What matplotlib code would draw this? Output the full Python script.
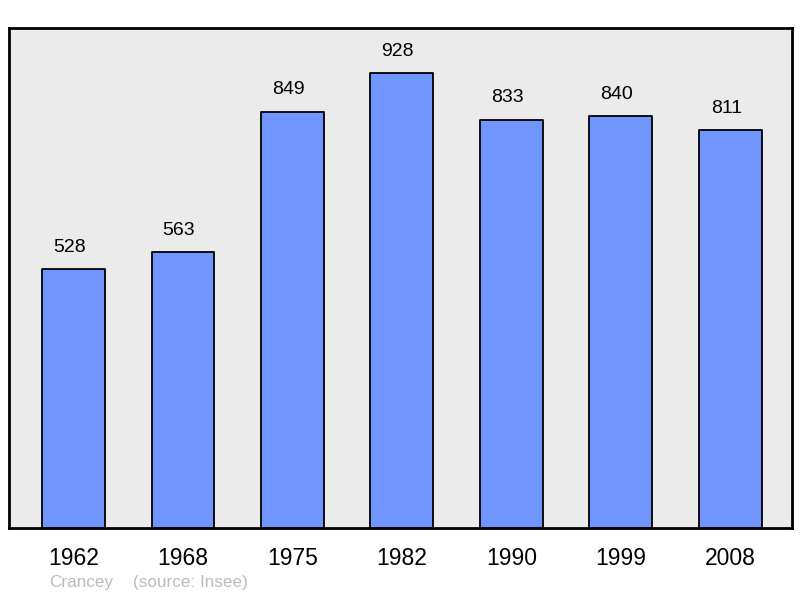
import matplotlib
matplotlib.use("Agg")
import matplotlib.pyplot as plt

years = ["1962", "1968", "1975", "1982", "1990", "1999", "2008"]
population = [528, 563, 849, 928, 833, 840, 811]
commune = "Crancey"
source = "(source: Insee)"

plt.rcParams['font.family'] = ['Liberation Sans', 'DejaVu Sans']

fig = plt.figure(figsize=(8, 5.98), dpi=100)
ax = fig.add_axes([9/800, 1-528/598, 783/800, 500/598])
ax.set_facecolor('#EBEBEB')

x = list(range(len(years)))
bars = ax.bar(x, population, width=0.575, color='#7095FF', edgecolor='black',
              linewidth=1.3, joinstyle='round', zorder=2)
ax.set_xlim(-0.589, 6.562)
ax.set_ylim(0, 1020)
for xi, v in zip(x, population):
    ax.annotate(str(v), (xi, v), xytext=(-3, 15.8), textcoords='offset points',
                ha='center', va='center', fontsize=14, color='black')
ax.set_xticks(x)
ax.set_xticklabels(years, fontsize=16.5)
ax.tick_params(axis='x', length=0, pad=14)
ax.set_yticks([])
for s in ax.spines.values():
    s.set_linewidth(2)
    s.set_joinstyle('round')
fig.text(49/800, 1-583/598, commune, fontsize=12.3, color='#BBBBBB', va='center', ha='left')
fig.text(133/800, 1-583/598, source, fontsize=12.3, color='#BBBBBB', va='center', ha='left')
fig.savefig('out.png', dpi=100)
